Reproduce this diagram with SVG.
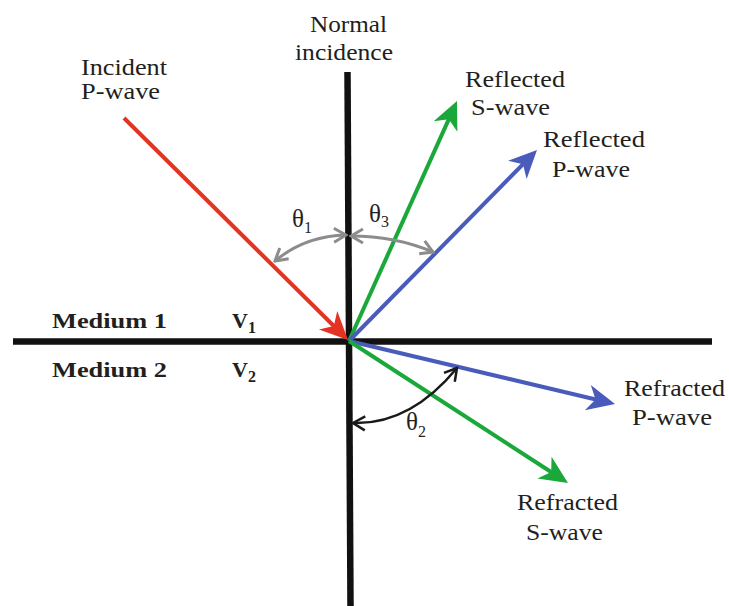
<svg xmlns="http://www.w3.org/2000/svg" width="729" height="606" viewBox="0 0 729 606">
<style>
text{font-family:'Liberation Serif','Times New Roman',serif;fill:#231f20}
.lbl{font-size:23px}
.th{font-size:25px}
.med{font-size:22px;font-weight:bold}
.sub{font-size:16px}
.axis{stroke:#111;stroke-width:6.5;fill:none}
.ray{stroke-width:4;fill:none}
.gray{stroke:#8c8c8c;stroke-width:3;fill:none}
.blk{stroke:#1a1a1a;stroke-width:2.5;fill:none}
</style>
<defs>
<marker id="hRed" markerUnits="userSpaceOnUse" markerWidth="32" markerHeight="30" viewBox="-30 -15 32 30" refX="-10" refY="0" orient="auto"><path d="M0,0 L-28,-13 L-20,0 L-28,13 Z" fill="#e53323"/></marker>
<marker id="hGreen" markerUnits="userSpaceOnUse" markerWidth="32" markerHeight="30" viewBox="-30 -15 32 30" refX="-10" refY="0" orient="auto"><path d="M0,0 L-28,-13 L-20,0 L-28,13 Z" fill="#1aa83a"/></marker>
<marker id="hBlue" markerUnits="userSpaceOnUse" markerWidth="32" markerHeight="30" viewBox="-30 -15 32 30" refX="-10" refY="0" orient="auto"><path d="M0,0 L-28,-13 L-20,0 L-28,13 Z" fill="#4a5cbb"/></marker>
<marker id="vGray" markerUnits="userSpaceOnUse" markerWidth="16" markerHeight="18" viewBox="-14 -9 16 18" refX="0" refY="0" orient="auto-start-reverse"><path d="M-12,-7 L0,0 L-12,7" fill="none" stroke="#8c8c8c" stroke-width="3"/></marker>
<marker id="vBlk" markerUnits="userSpaceOnUse" markerWidth="16" markerHeight="18" viewBox="-14 -9 16 18" refX="0" refY="0" orient="auto-start-reverse"><path d="M-12,-7 L0,0 L-12,7" fill="none" stroke="#1a1a1a" stroke-width="2.5"/></marker>
</defs>

<g id="axes">
<line class="axis" x1="347.5" y1="72" x2="350.5" y2="606"/>
<line class="axis" x1="13" y1="341.5" x2="712" y2="341.5"/>
</g>

<g id="connectors">
<line id="incident" class="ray" stroke="#e53323" x1="124" y1="118" x2="340.9" y2="333" marker-end="url(#hRed)"/>
<line id="reflS" class="ray" stroke="#1aa83a" x1="349" y1="341" x2="452.9" y2="110.1" marker-end="url(#hGreen)"/>
<line id="reflP" class="ray" stroke="#4a5cbb" x1="349" y1="341" x2="530" y2="157.1" marker-end="url(#hBlue)"/>
<line id="refrP" class="ray" stroke="#4a5cbb" x1="349" y1="341" x2="605.3" y2="401.7" marker-end="url(#hBlue)"/>
<line id="refrS" class="ray" stroke="#1aa83a" x1="349" y1="341" x2="559.6" y2="477.5" marker-end="url(#hGreen)"/>
<path id="arc1" class="gray" d="M275,261 Q305,236 346,235" marker-start="url(#vGray)" marker-end="url(#vGray)"/>
<path id="arc3" class="gray" d="M351,236 Q395,236 433,252" marker-start="url(#vGray)" marker-end="url(#vGray)"/>
<path id="arc2" class="blk" d="M353,423 Q410,425 457,368" marker-start="url(#vBlk)" marker-end="url(#vBlk)"/>
</g>

<g id="normal-label">
<text class="lbl" x="310" y="32" textLength="77" lengthAdjust="spacingAndGlyphs">Normal</text>
<text class="lbl" x="295" y="60" textLength="98" lengthAdjust="spacingAndGlyphs">incidence</text>
</g>
<g id="incident-label">
<text class="lbl" x="81" y="75" textLength="86" lengthAdjust="spacingAndGlyphs">Incident</text>
<text class="lbl" x="81" y="99" textLength="79" lengthAdjust="spacingAndGlyphs">P-wave</text>
</g>
<g id="reflS-label">
<text class="lbl" x="465" y="87" textLength="100" lengthAdjust="spacingAndGlyphs">Reflected</text>
<text class="lbl" x="471" y="115" textLength="79" lengthAdjust="spacingAndGlyphs">S-wave</text>
</g>
<g id="reflP-label">
<text class="lbl" x="543" y="147" textLength="102" lengthAdjust="spacingAndGlyphs">Reflected</text>
<text class="lbl" x="552" y="177" textLength="78" lengthAdjust="spacingAndGlyphs">P-wave</text>
</g>
<g id="refrP-label">
<text class="lbl" x="624" y="396" textLength="101" lengthAdjust="spacingAndGlyphs">Refracted</text>
<text class="lbl" x="632" y="425" textLength="80" lengthAdjust="spacingAndGlyphs">P-wave</text>
</g>
<g id="refrS-label">
<text class="lbl" x="517" y="510" textLength="101" lengthAdjust="spacingAndGlyphs">Refracted</text>
<text class="lbl" x="526" y="540" textLength="77" lengthAdjust="spacingAndGlyphs">S-wave</text>
</g>

<g id="theta1"><text class="th" x="292" y="227">θ<tspan class="sub" dy="6">1</tspan></text></g>
<g id="theta3"><text class="th" x="369" y="222">θ<tspan class="sub" dy="5">3</tspan></text></g>
<g id="theta2"><text class="th" x="406" y="430">θ<tspan class="sub" dy="7">2</tspan></text></g>

<g id="medium1">
<text class="med" x="52" y="328" textLength="115" lengthAdjust="spacingAndGlyphs">Medium 1</text>
<text class="med" x="232" y="328">V<tspan class="sub" dy="5">1</tspan></text>
</g>
<g id="medium2">
<text class="med" x="52" y="377" textLength="115" lengthAdjust="spacingAndGlyphs">Medium 2</text>
<text class="med" x="232" y="377">V<tspan class="sub" dy="5">2</tspan></text>
</g>
</svg>
